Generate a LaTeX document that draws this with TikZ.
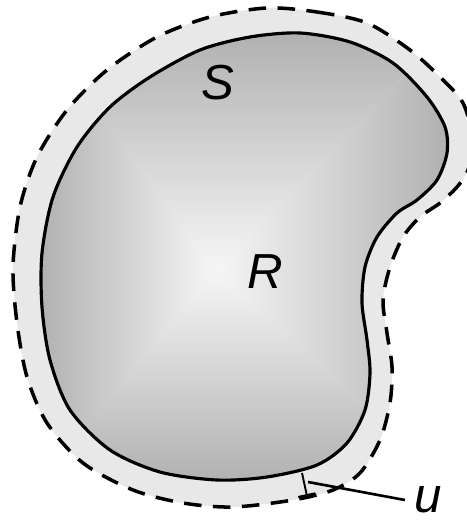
\documentclass[tikz,border=0pt]{standalone}
\usepackage{fontspec}
\setsansfont{Liberation Sans}
\usepackage{xcolor}
\usetikzlibrary{arrows.meta}

\colorlet{bandgray}{gray!18}
\colorlet{edgegray}{gray!62}
\colorlet{coregray}{gray!7}

\begin{document}
\begin{tikzpicture}[x=0.02cm, y=-0.02cm,
    lbl/.style={font=\sffamily\itshape\fontsize{28}{30}\selectfont}]
    \useasboundingbox (0,0) rectangle (466,523);

    % Outer band S, with dashed boundary
    \fill[bandgray] plot[smooth cycle] coordinates {
        (267,8) (317,12) (367,23) (410,50) (440,77) (463,103) (473,140)
        (468,170) (457,187) (440,203) (420,217) (403,237) (390,267)
        (383,300) (387,333) (392,367) (390,403) (380,440) (360,473)
        (333,490) (293,500) (233,507) (183,503) (133,490) (83,463)
        (47,423) (27,377) (17,323) (13,267) (20,207) (37,157) (67,110)
        (107,70) (157,37) (210,17)};

    % Inner region R, shaded from the middle out
    \begin{scope}
        \clip plot[smooth cycle] coordinates {
            (300,33) (350,42) (393,63) (427,97) (445,127) (447,153)
            (437,180) (417,200) (397,213) (377,237) (365,267) (362,303)
            (367,340) (370,373) (365,410) (347,443) (317,465) (267,477)
            (217,480) (160,472) (110,450) (70,410) (50,360) (42,307)
            (42,253) (53,197) (77,147) (110,107) (150,77) (200,50) (250,37)};
        \shade[top color=edgegray, bottom color=coregray]
            (38,30) -- (450,30) -- (215,270) -- cycle;
        \shade[bottom color=edgegray, top color=coregray]
            (38,484) -- (450,484) -- (215,270) -- cycle;
        \shade[left color=edgegray, right color=coregray]
            (38,30) -- (38,484) -- (215,270) -- cycle;
        \shade[right color=edgegray, left color=coregray]
            (450,30) -- (450,484) -- (215,270) -- cycle;
    \end{scope}

    % Boundaries
    \draw[line width=1.8pt] plot[smooth cycle] coordinates {
        (300,33) (350,42) (393,63) (427,97) (445,127) (447,153)
        (437,180) (417,200) (397,213) (377,237) (365,267) (362,303)
        (367,340) (370,373) (365,410) (347,443) (317,465) (267,477)
        (217,480) (160,472) (110,450) (70,410) (50,360) (42,307)
        (42,253) (53,197) (77,147) (110,107) (150,77) (200,50) (250,37)};
    \draw[line width=2pt, dash pattern=on 10pt off 6.5pt] plot[smooth cycle] coordinates {
        (267,8) (317,12) (367,23) (410,50) (440,77) (463,103) (473,140)
        (468,170) (457,187) (440,203) (420,217) (403,237) (390,267)
        (383,300) (387,333) (392,367) (390,403) (380,440) (360,473)
        (333,490) (293,500) (233,507) (183,503) (133,490) (83,463)
        (47,423) (27,377) (17,323) (13,267) (20,207) (37,157) (67,110)
        (107,70) (157,37) (210,17)};

    % Labels
    \node[lbl] (S) at (218,83) {S};
    \node[lbl] (R) at (265,272) {R};
    \node[lbl, anchor=west, inner sep=1pt] (u) at (412,500) {u};

    % Width marker for u
    \coordinate (utop) at (302,473);
    \coordinate (ubot) at (307,496);
    \coordinate (lead) at (308,482);
    \draw[line width=1.1pt, -{Bar[width=10pt]}] (utop) -- (ubot);
    \draw[line width=1.5pt] (lead) -- ([xshift=-4pt]u.west);

\end{tikzpicture}
\end{document}
